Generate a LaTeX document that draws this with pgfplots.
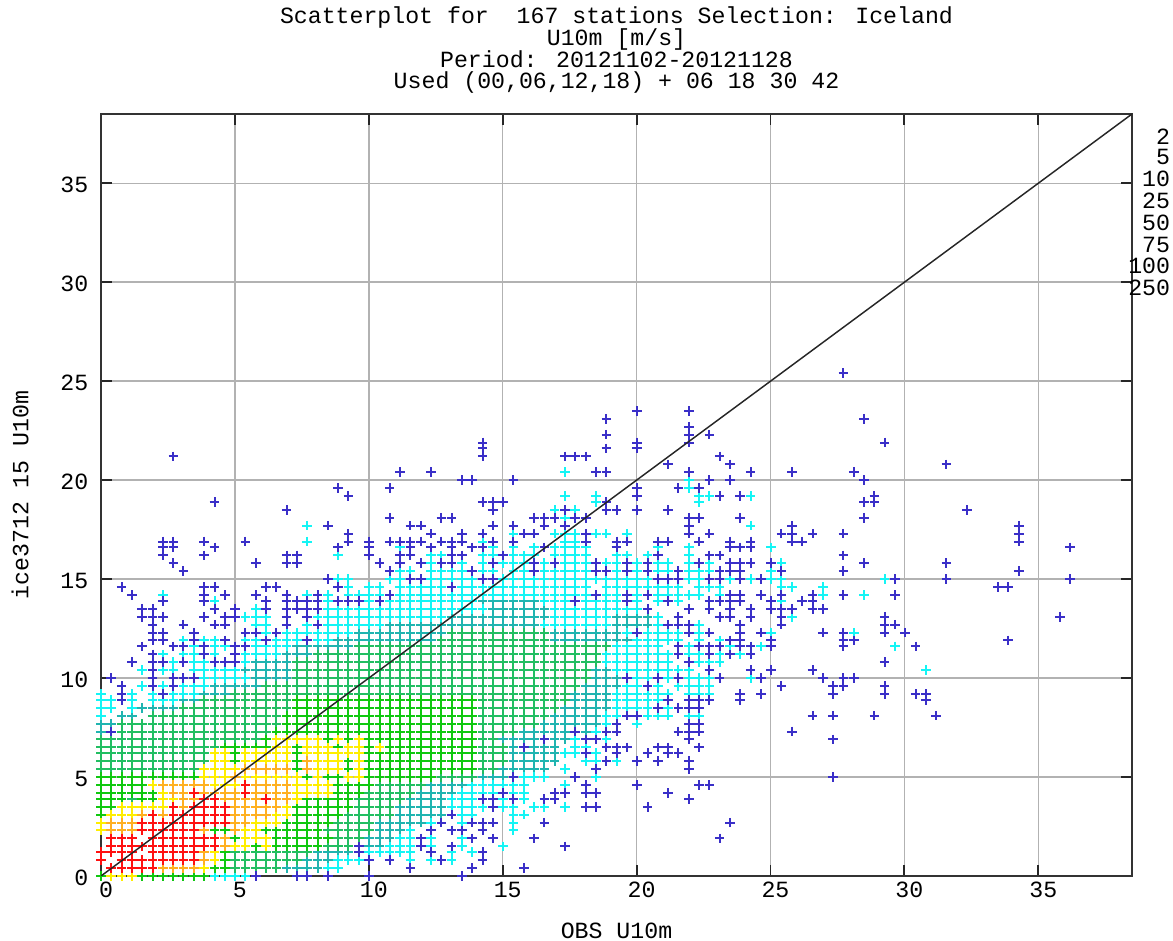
\documentclass[border=0pt]{standalone}
\usepackage{pgfplots}
\pgfplotsset{compat=1.18}
\usepackage{fontspec}
\setmainfont{Liberation Mono}
\definecolor{cR}{HTML}{FF1010}
\definecolor{cO}{HTML}{FFB020}
\definecolor{cY}{HTML}{FFEE00}
\definecolor{cG}{HTML}{10C810}
\definecolor{cM}{HTML}{22BE62}
\definecolor{cT}{HTML}{20B4B0}
\definecolor{cC}{HTML}{14F5F5}
\definecolor{cB}{HTML}{3A2FC8}
\newcommand{\gfont}{\fontsize{17.4}{16.3}\selectfont}
\begin{document}
\begin{tikzpicture}
\path[use as bounding box] (-75.75pt,-48.75pt) rectangle (804pt,657pt);
\begin{axis}[
 scale only axis, width=773.25pt, height=571.5pt,
 xmin=0,xmax=38.5,ymin=0,ymax=38.5,
 xtick={0,5,...,35}, ytick={0,5,...,35},
 grid=major, major grid style={draw=black!30!white,line width=1.1pt},
 tick align=inside, major tick length=8pt, tick style={draw=black!85,line width=1.4pt},
 axis line style={draw=black!80,line width=1.5pt},
 clip mode=individual,
 /pgf/number format/assume math mode=true,
 tick label style={font=\gfont},
 xticklabel style={xshift=3.75pt,yshift=-1pt},
 yticklabel style={xshift=-6pt,yshift=-1.5pt},
 title={Scatterplot for\ \ 167 stations Selection: Iceland\\U10m [m/s]\\Period: 20121102-20121128\\Used (00,06,12,18) + 06 18 30 42},
 title style={font=\gfont,align=center,at={(0.5,1)},anchor=south,inner sep=0pt,yshift=9pt},
 xlabel={OBS U10m}, xlabel style={font=\gfont,inner sep=0pt,at={(axis description cs:0.5,0)},anchor=center,yshift=-41.5pt},
 ylabel={ice3712 15 U10m}, ylabel style={font=\gfont,inner sep=0pt,at={(axis description cs:0,0.5)},anchor=center,yshift=60.75pt},
 every axis plot/.append style={only marks,mark=+,mark size=3.6pt,line width=1.5pt,mark options={solid,line width=1.5pt}},
]
\addplot[color=cT] table[header=false] {
7.7 0.4
6.93 0.4
7.32 0.4
8.09 0.4
7.7 0.8
8.09 0.8
8.47 0.8
8.09 1.2
8.47 1.2
8.86 1.2
9.24 1.2
9.63 1.5
10.01 1.5
10.4 1.5
10.01 1.9
10.4 1.9
10.78 1.9
10.4 2.3
10.78 2.3
11.17 2.3
10.4 2.7
10.78 2.7
11.17 2.7
11.55 2.7
11.94 2.7
11.17 3.1
11.55 3.1
11.94 3.1
12.32 3.1
12.71 3.1
11.17 3.5
11.55 3.5
11.94 3.5
12.32 3.5
12.71 3.5
11.55 3.9
11.94 3.9
12.32 3.9
12.71 3.9
11.94 4.2
12.32 4.2
12.71 4.2
13.09 4.2
12.32 4.6
12.71 4.6
13.09 4.6
13.48 4.6
14.25 5
14.63 5
15.02 5
15.4 5
15.02 5.4
15.4 5.4
15.79 5.4
16.17 5.4
16.56 5.4
15.4 5.8
15.79 5.8
16.17 5.8
16.56 5.8
16.94 5.8
15.4 6.2
15.79 6.2
16.17 6.2
16.56 6.2
16.94 6.2
15.4 6.5
15.79 6.5
16.17 6.5
16.56 6.5
16.94 6.5
15.02 6.9
15.4 6.9
15.79 6.9
16.17 6.9
16.56 6.9
16.94 6.9
17.33 6.9
0 7.3
0.38 7.3
15.79 7.3
16.17 7.3
16.56 7.3
16.94 7.3
17.33 7.3
17.71 7.3
18.1 7.3
0 7.7
0.38 7.7
16.56 7.7
16.94 7.7
17.33 7.7
17.71 7.7
18.1 7.7
18.48 7.7
0.77 8.1
1.16 8.1
16.94 8.1
17.33 8.1
17.71 8.1
18.1 8.1
18.48 8.1
1.54 8.5
1.93 8.5
2.31 8.5
2.7 8.5
17.33 8.5
17.71 8.5
18.1 8.5
18.48 8.5
18.87 8.5
3.08 8.9
3.47 8.9
17.71 8.9
18.1 8.9
18.48 8.9
18.87 8.9
3.85 9.2
4.24 9.2
4.62 9.2
17.71 9.2
18.1 9.2
18.48 9.2
18.87 9.2
4.24 9.6
4.62 9.6
5 9.6
5.39 9.6
5.78 9.6
18.1 9.6
18.48 9.6
18.87 9.6
19.25 9.6
5.78 10
6.16 10
6.55 10
6.93 10
18.48 10
18.87 10
19.25 10
5.39 10.4
5.78 10.4
6.16 10.4
6.55 10.4
6.93 10.4
18.48 10.4
18.87 10.4
5.78 10.8
6.16 10.8
6.55 10.8
6.93 10.8
6.93 11.2
7.32 11.2
7.7 11.2
7.32 11.6
7.7 11.6
8.09 11.6
8.47 11.6
8.86 11.6
9.24 11.6
8.86 11.9
9.24 11.9
9.63 11.9
10.01 11.9
10.4 11.9
10.78 11.9
11.17 11.9
11.55 11.9
11.94 11.9
12.32 11.9
16.94 11.9
17.33 11.9
17.71 11.9
18.1 11.9
18.48 11.9
18.87 11.9
19.25 11.9
19.64 11.9
9.63 12.3
10.01 12.3
10.4 12.3
10.78 12.3
11.17 12.3
11.55 12.3
11.94 12.3
12.32 12.3
12.71 12.3
16.94 12.3
17.33 12.3
17.71 12.3
18.1 12.3
18.48 12.3
18.87 12.3
19.25 12.3
10.78 12.7
11.17 12.7
11.55 12.7
11.94 12.7
12.32 12.7
12.71 12.7
13.09 12.7
13.48 12.7
13.86 12.7
14.25 12.7
14.63 12.7
15.02 12.7
15.4 12.7
15.79 12.7
16.17 12.7
19.25 12.7
19.64 12.7
20.02 12.7
20.41 12.7
13.09 13.1
13.48 13.1
13.86 13.1
14.25 13.1
14.63 13.1
15.02 13.1
15.4 13.1
15.79 13.1
16.17 13.1
16.56 13.1
19.25 13.1
19.64 13.1
20.02 13.1
20.41 13.1
14.63 13.5
15.02 13.5
15.4 13.5
15.79 13.5
16.17 13.5
16.56 13.5
14.25 13.9
14.63 13.9
15.02 13.9
15.4 13.9
15.79 13.9
16.17 13.9
};
\addplot[color=cC] table[header=false] {
4.24 0
4.62 0
5 0
5.39 0
8.47 0.4
8.86 0.4
8.86 0.8
9.24 0.8
9.63 0.8
11.55 0.8
12.32 0.8
13.09 0.8
9.63 1.2
10.01 1.2
10.4 1.2
10.78 1.2
11.17 1.2
11.55 1.2
12.32 1.2
13.09 1.2
13.86 1.2
10.78 1.5
11.17 1.5
11.55 1.5
12.32 1.5
13.48 1.5
15.02 1.5
11.17 1.9
11.55 1.9
12.32 1.9
13.48 1.9
11.55 2.3
12.32 2.3
13.09 2.3
13.48 2.3
15.4 2.3
12.32 2.7
13.48 2.7
13.86 2.7
15.4 2.7
13.09 3.1
13.48 3.1
13.86 3.1
15.4 3.1
15.79 3.1
13.09 3.5
13.48 3.5
13.86 3.5
14.25 3.5
15.02 3.5
15.4 3.5
16.17 3.5
16.56 3.5
17.33 3.5
13.09 3.9
13.48 3.9
13.86 3.9
15.02 3.9
15.79 3.9
13.48 4.2
13.86 4.2
14.25 4.2
14.63 4.2
15.4 4.2
15.79 4.2
13.86 4.6
14.25 4.6
14.63 4.6
15.02 4.6
15.4 4.6
15.79 4.6
17.33 4.6
15.79 5
16.17 5
16.56 5
18.48 5
17.33 5.4
18.48 5.4
18.1 5.8
18.48 5.8
19.25 5.8
17.33 6.2
17.71 6.2
18.1 6.2
18.48 6.2
17.71 6.5
18.1 6.5
17.71 6.9
18.1 6.9
18.48 6.9
18.87 6.9
18.48 7.3
18.87 7.3
18.87 7.7
20.02 7.7
0 8.1
18.87 8.1
19.25 8.1
20.02 8.1
20.41 8.1
20.79 8.1
21.18 8.1
21.95 8.1
22.33 8.1
0 8.5
0.38 8.5
1.16 8.5
19.25 8.5
19.64 8.5
20.02 8.5
20.41 8.5
20.79 8.5
21.18 8.5
21.95 8.5
22.33 8.5
0 8.9
0.38 8.9
1.16 8.9
1.93 8.9
2.31 8.9
2.7 8.9
19.25 8.9
19.64 8.9
20.02 8.9
20.41 8.9
20.79 8.9
21.18 8.9
21.95 8.9
22.33 8.9
0 9.2
1.16 9.2
1.93 9.2
2.31 9.2
2.7 9.2
3.08 9.2
3.47 9.2
19.25 9.2
19.64 9.2
20.02 9.2
20.41 9.2
20.79 9.2
21.18 9.2
21.95 9.2
22.33 9.2
22.72 9.2
1.54 9.6
2.31 9.6
2.7 9.6
3.08 9.6
3.47 9.6
3.85 9.6
19.64 9.6
20.02 9.6
20.79 9.6
21.56 9.6
21.95 9.6
22.33 9.6
22.72 9.6
3.85 10
4.24 10
4.62 10
5 10
5.39 10
19.64 10
20.02 10
20.41 10
20.79 10
21.18 10
21.56 10
21.95 10
22.33 10
22.72 10
24.26 10
1.54 10.4
2.31 10.4
2.7 10.4
3.47 10.4
3.85 10.4
4.24 10.4
4.62 10.4
5 10.4
19.25 10.4
19.64 10.4
20.02 10.4
20.41 10.4
20.79 10.4
21.18 10.4
21.56 10.4
21.95 10.4
22.72 10.4
24.26 10.4
30.8 10.4
2.7 10.8
3.47 10.8
3.85 10.8
4.24 10.8
4.62 10.8
5 10.8
5.39 10.8
18.87 10.8
19.25 10.8
19.64 10.8
20.02 10.8
20.41 10.8
20.79 10.8
21.18 10.8
22.33 10.8
22.72 10.8
23.1 10.8
2.31 11.2
3.08 11.2
3.47 11.2
3.85 11.2
4.24 11.2
5 11.2
5.39 11.2
5.78 11.2
6.16 11.2
6.55 11.2
18.87 11.2
19.25 11.2
19.64 11.2
20.02 11.2
20.41 11.2
20.79 11.2
21.18 11.2
21.95 11.2
22.33 11.2
23.1 11.2
23.87 11.2
3.08 11.6
3.47 11.6
4.24 11.6
4.62 11.6
5.78 11.6
6.16 11.6
6.55 11.6
6.93 11.6
19.25 11.6
19.64 11.6
20.02 11.6
20.41 11.6
20.79 11.6
21.95 11.6
22.72 11.6
23.49 11.6
24.64 11.6
29.65 11.6
3.08 11.9
3.85 11.9
4.24 11.9
5.39 11.9
5.78 11.9
6.16 11.9
6.55 11.9
6.93 11.9
7.32 11.9
8.09 11.9
8.47 11.9
20.02 11.9
20.41 11.9
20.79 11.9
21.18 11.9
21.56 11.9
22.33 11.9
23.1 11.9
6.16 12.3
6.93 12.3
7.32 12.3
7.7 12.3
8.09 12.3
8.47 12.3
8.86 12.3
9.24 12.3
19.64 12.3
20.02 12.3
20.41 12.3
20.79 12.3
21.18 12.3
21.56 12.3
22.33 12.3
25.03 12.3
28.11 12.3
5.78 12.7
6.16 12.7
7.7 12.7
8.09 12.7
8.47 12.7
8.86 12.7
9.24 12.7
9.63 12.7
10.01 12.7
10.4 12.7
16.56 12.7
16.94 12.7
17.33 12.7
17.71 12.7
18.1 12.7
18.48 12.7
18.87 12.7
20.79 12.7
22.33 12.7
5.39 13.1
5.78 13.1
6.16 13.1
7.7 13.1
8.09 13.1
8.47 13.1
8.86 13.1
9.24 13.1
9.63 13.1
10.01 13.1
10.4 13.1
10.78 13.1
11.17 13.1
11.55 13.1
11.94 13.1
12.32 13.1
12.71 13.1
16.94 13.1
17.33 13.1
17.71 13.1
18.1 13.1
18.48 13.1
18.87 13.1
20.79 13.1
25.8 13.1
5.78 13.5
8.47 13.5
8.86 13.5
9.24 13.5
9.63 13.5
10.01 13.5
10.4 13.5
10.78 13.5
11.17 13.5
11.55 13.5
11.94 13.5
12.32 13.5
12.71 13.5
13.09 13.5
13.48 13.5
13.86 13.5
14.25 13.5
16.94 13.5
17.33 13.5
17.71 13.5
18.1 13.5
18.48 13.5
18.87 13.5
19.25 13.5
19.64 13.5
20.02 13.5
26.57 13.5
4.24 13.9
7.32 13.9
8.47 13.9
10.01 13.9
10.4 13.9
10.78 13.9
11.17 13.9
11.55 13.9
11.94 13.9
12.32 13.9
12.71 13.9
13.09 13.9
13.48 13.9
13.86 13.9
16.56 13.9
16.94 13.9
17.33 13.9
17.71 13.9
18.1 13.9
18.48 13.9
18.87 13.9
19.25 13.9
19.64 13.9
20.02 13.9
20.79 13.9
21.56 13.9
25.41 13.9
2.31 14.2
7.7 14.2
8.09 14.2
8.47 14.2
9.24 14.2
9.63 14.2
10.01 14.2
10.4 14.2
11.17 14.2
11.55 14.2
11.94 14.2
12.32 14.2
12.71 14.2
13.09 14.2
13.48 14.2
13.86 14.2
14.25 14.2
14.63 14.2
15.02 14.2
15.4 14.2
15.79 14.2
16.17 14.2
16.56 14.2
16.94 14.2
17.33 14.2
17.71 14.2
18.1 14.2
18.87 14.2
19.25 14.2
20.02 14.2
20.79 14.2
21.18 14.2
21.56 14.2
21.95 14.2
22.33 14.2
23.1 14.2
26.95 14.2
28.49 14.2
9.24 14.6
10.01 14.6
10.4 14.6
11.17 14.6
11.55 14.6
11.94 14.6
12.32 14.6
12.71 14.6
13.09 14.6
13.48 14.6
13.86 14.6
14.25 14.6
14.63 14.6
15.02 14.6
15.4 14.6
15.79 14.6
16.17 14.6
16.56 14.6
16.94 14.6
17.33 14.6
17.71 14.6
18.1 14.6
18.87 14.6
19.25 14.6
19.64 14.6
20.02 14.6
20.41 14.6
20.79 14.6
21.18 14.6
21.56 14.6
22.33 14.6
22.72 14.6
23.1 14.6
25.41 14.6
25.8 14.6
26.95 14.6
8.86 15
9.24 15
10.78 15
11.17 15
12.32 15
12.71 15
13.09 15
13.48 15
13.86 15
14.25 15
14.63 15
15.02 15
15.4 15
15.79 15
16.17 15
16.56 15
16.94 15
17.33 15
17.71 15
18.1 15
18.48 15
18.87 15
19.25 15
19.64 15
20.02 15
20.41 15
21.95 15
22.33 15
23.49 15
24.26 15
24.64 15
25.03 15
25.41 15
29.26 15
11.17 15.4
11.55 15.4
12.32 15.4
12.71 15.4
13.09 15.4
13.48 15.4
14.25 15.4
14.63 15.4
15.4 15.4
15.79 15.4
16.56 15.4
16.94 15.4
17.33 15.4
17.71 15.4
18.1 15.4
19.25 15.4
20.02 15.4
20.79 15.4
21.18 15.4
21.95 15.4
22.33 15.4
22.72 15.4
25.03 15.4
11.17 15.8
12.32 15.8
13.48 15.8
14.25 15.8
15.02 15.8
15.4 15.8
15.79 15.8
16.56 15.8
17.33 15.8
17.71 15.8
18.1 15.8
18.87 15.8
19.25 15.8
20.02 15.8
20.79 15.8
21.18 15.8
21.95 15.8
22.72 15.8
25.41 15.8
8.86 16.2
12.32 16.2
12.71 16.2
14.25 16.2
14.63 16.2
15.02 16.2
15.4 16.2
15.79 16.2
16.17 16.2
16.94 16.2
17.33 16.2
17.71 16.2
18.1 16.2
19.25 16.2
19.64 16.2
20.41 16.2
21.95 16.2
11.17 16.6
14.63 16.6
15.4 16.6
16.17 16.6
16.94 16.6
17.33 16.6
17.71 16.6
18.1 16.6
20.79 16.6
21.95 16.6
25.03 16.6
7.7 16.9
14.25 16.9
17.33 16.9
17.71 16.9
15.4 17.3
16.94 17.3
17.33 17.3
17.71 17.3
18.48 17.3
18.87 17.3
19.64 17.3
7.7 17.7
17.33 17.7
24.26 17.7
17.33 18.1
16.94 18.5
17.71 18.5
18.48 18.9
22.33 18.9
17.33 19.2
18.48 19.2
22.33 19.2
22.72 19.2
24.26 19.2
21.95 19.6
21.95 20
17.33 20.4
};
\addplot[color=cM] table[header=false] {
5 0.4
5.39 0.4
5.78 0.4
6.16 0.4
6.55 0.4
5 0.8
5.39 0.8
5.78 0.8
6.16 0.8
6.55 0.8
6.93 0.8
7.32 0.8
5 1.2
5.39 1.2
5.78 1.2
6.16 1.2
6.55 1.2
6.93 1.2
7.32 1.2
7.7 1.2
8.47 1.5
8.86 1.5
9.24 1.5
8.86 1.9
9.24 1.9
9.63 1.9
8.47 2.3
8.86 2.3
9.24 2.3
9.63 2.3
10.01 2.3
8.86 2.7
9.24 2.7
9.63 2.7
10.01 2.7
9.24 3.1
9.63 3.1
10.01 3.1
10.4 3.1
10.78 3.1
9.63 3.5
10.01 3.5
10.4 3.5
10.78 3.5
1.16 3.9
9.63 3.9
10.01 3.9
10.4 3.9
10.78 3.9
11.17 3.9
10.01 4.2
10.4 4.2
10.78 4.2
11.17 4.2
11.55 4.2
10.4 4.6
10.78 4.6
11.17 4.6
11.55 4.6
11.94 4.6
12.71 5
13.09 5
13.48 5
13.86 5
0 5.4
0.38 5.4
0.77 5.4
1.16 5.4
1.54 5.4
1.93 5.4
2.31 5.4
2.7 5.4
3.08 5.4
3.47 5.4
14.25 5.4
14.63 5.4
0 5.8
0.38 5.8
0.77 5.8
1.16 5.8
1.54 5.8
1.93 5.8
2.31 5.8
2.7 5.8
3.08 5.8
3.47 5.8
3.85 5.8
14.25 5.8
14.63 5.8
15.02 5.8
0 6.2
0.38 6.2
0.77 6.2
1.16 6.2
1.54 6.2
1.93 6.2
2.31 6.2
2.7 6.2
3.08 6.2
3.47 6.2
3.85 6.2
14.25 6.2
14.63 6.2
15.02 6.2
0 6.5
0.38 6.5
0.77 6.5
1.16 6.5
1.54 6.5
1.93 6.5
2.31 6.5
2.7 6.5
3.08 6.5
3.47 6.5
3.85 6.5
4.24 6.5
14.25 6.5
14.63 6.5
15.02 6.5
0 6.9
0.38 6.9
0.77 6.9
1.16 6.9
1.54 6.9
1.93 6.9
2.31 6.9
2.7 6.9
3.08 6.9
3.47 6.9
3.85 6.9
4.24 6.9
4.62 6.9
5 6.9
5.39 6.9
5.78 6.9
14.25 6.9
14.63 6.9
0.77 7.3
1.16 7.3
1.54 7.3
1.93 7.3
2.31 7.3
2.7 7.3
3.08 7.3
3.47 7.3
3.85 7.3
4.24 7.3
4.62 7.3
5 7.3
5.39 7.3
5.78 7.3
6.16 7.3
14.25 7.3
14.63 7.3
15.02 7.3
15.4 7.3
0.77 7.7
1.16 7.7
1.54 7.7
1.93 7.7
2.31 7.7
2.7 7.7
3.08 7.7
3.47 7.7
3.85 7.7
4.24 7.7
4.62 7.7
5 7.7
5.39 7.7
5.78 7.7
6.16 7.7
6.55 7.7
14.25 7.7
14.63 7.7
15.02 7.7
15.4 7.7
15.79 7.7
16.17 7.7
1.93 8.1
2.31 8.1
2.7 8.1
3.08 8.1
3.47 8.1
3.85 8.1
4.24 8.1
4.62 8.1
5 8.1
5.39 8.1
5.78 8.1
6.16 8.1
6.55 8.1
14.25 8.1
14.63 8.1
15.02 8.1
15.4 8.1
15.79 8.1
16.17 8.1
16.56 8.1
3.08 8.5
3.47 8.5
3.85 8.5
4.24 8.5
4.62 8.5
5 8.5
5.39 8.5
5.78 8.5
6.16 8.5
6.55 8.5
6.93 8.5
14.25 8.5
14.63 8.5
15.02 8.5
15.4 8.5
15.79 8.5
16.17 8.5
16.56 8.5
16.94 8.5
3.85 8.9
4.24 8.9
4.62 8.9
5 8.9
5.39 8.9
5.78 8.9
6.16 8.9
6.55 8.9
6.93 8.9
14.25 8.9
14.63 8.9
15.02 8.9
15.4 8.9
15.79 8.9
16.17 8.9
16.56 8.9
16.94 8.9
17.33 8.9
5 9.2
5.39 9.2
5.78 9.2
6.16 9.2
6.55 9.2
6.93 9.2
7.32 9.2
7.7 9.2
8.09 9.2
8.47 9.2
8.86 9.2
9.24 9.2
9.63 9.2
10.01 9.2
10.4 9.2
10.78 9.2
11.17 9.2
11.55 9.2
11.94 9.2
12.32 9.2
12.71 9.2
13.09 9.2
13.48 9.2
13.86 9.2
14.25 9.2
14.63 9.2
15.02 9.2
15.4 9.2
15.79 9.2
16.17 9.2
16.56 9.2
16.94 9.2
17.33 9.2
6.16 9.6
6.55 9.6
6.93 9.6
7.32 9.6
7.7 9.6
8.09 9.6
8.47 9.6
8.86 9.6
9.24 9.6
9.63 9.6
10.01 9.6
10.4 9.6
10.78 9.6
11.17 9.6
11.55 9.6
11.94 9.6
12.32 9.6
12.71 9.6
13.09 9.6
13.48 9.6
13.86 9.6
14.25 9.6
14.63 9.6
15.02 9.6
15.4 9.6
15.79 9.6
16.17 9.6
16.56 9.6
16.94 9.6
17.33 9.6
17.71 9.6
7.32 10
7.7 10
8.09 10
8.47 10
8.86 10
9.24 10
9.63 10
10.01 10
10.4 10
10.78 10
11.17 10
11.55 10
11.94 10
12.32 10
12.71 10
13.09 10
13.48 10
13.86 10
14.25 10
14.63 10
15.02 10
15.4 10
15.79 10
16.17 10
16.56 10
16.94 10
17.33 10
17.71 10
18.1 10
7.32 10.4
7.7 10.4
8.09 10.4
8.47 10.4
8.86 10.4
9.24 10.4
9.63 10.4
10.01 10.4
10.4 10.4
10.78 10.4
11.17 10.4
11.55 10.4
11.94 10.4
12.32 10.4
12.71 10.4
13.09 10.4
13.48 10.4
13.86 10.4
14.25 10.4
14.63 10.4
15.02 10.4
15.4 10.4
15.79 10.4
16.17 10.4
16.56 10.4
16.94 10.4
17.33 10.4
17.71 10.4
18.1 10.4
7.32 10.8
7.7 10.8
8.09 10.8
8.47 10.8
8.86 10.8
9.24 10.8
9.63 10.8
10.01 10.8
10.4 10.8
10.78 10.8
11.17 10.8
11.55 10.8
11.94 10.8
12.32 10.8
12.71 10.8
13.09 10.8
13.48 10.8
13.86 10.8
14.25 10.8
14.63 10.8
15.02 10.8
15.4 10.8
15.79 10.8
16.17 10.8
16.56 10.8
16.94 10.8
17.33 10.8
17.71 10.8
18.1 10.8
18.48 10.8
8.09 11.2
8.47 11.2
8.86 11.2
9.24 11.2
9.63 11.2
10.01 11.2
10.4 11.2
10.78 11.2
11.17 11.2
11.55 11.2
11.94 11.2
12.32 11.2
12.71 11.2
13.09 11.2
13.48 11.2
13.86 11.2
14.25 11.2
14.63 11.2
15.02 11.2
15.4 11.2
15.79 11.2
16.17 11.2
16.56 11.2
16.94 11.2
17.33 11.2
17.71 11.2
18.1 11.2
18.48 11.2
9.63 11.6
10.01 11.6
10.4 11.6
10.78 11.6
11.17 11.6
11.55 11.6
11.94 11.6
12.32 11.6
12.71 11.6
13.09 11.6
13.48 11.6
13.86 11.6
14.25 11.6
14.63 11.6
15.02 11.6
15.4 11.6
15.79 11.6
16.17 11.6
16.56 11.6
16.94 11.6
17.33 11.6
17.71 11.6
18.1 11.6
18.48 11.6
18.87 11.6
12.71 11.9
13.09 11.9
13.48 11.9
13.86 11.9
14.25 11.9
14.63 11.9
15.02 11.9
15.4 11.9
15.79 11.9
16.17 11.9
16.56 11.9
13.09 12.3
13.48 12.3
13.86 12.3
14.25 12.3
14.63 12.3
15.02 12.3
15.4 12.3
15.79 12.3
16.17 12.3
16.56 12.3
};
\addplot[color=cG] table[header=false] {
0 0
1.54 0
1.93 0
2.31 0
2.7 0
3.08 0
3.47 0
3.85 0
4.24 0.4
4.62 0.4
4.62 0.8
4.62 1.2
5.78 1.5
6.55 1.5
6.93 1.5
7.32 1.5
7.7 1.5
8.09 1.5
5 1.9
6.55 1.9
6.93 1.9
7.32 1.9
7.7 1.9
8.09 1.9
8.47 1.9
4.24 2.3
4.62 2.3
6.16 2.3
6.55 2.3
6.93 2.3
7.32 2.3
7.7 2.3
8.09 2.3
6.93 2.7
7.32 2.7
7.7 2.7
8.09 2.7
8.47 2.7
0 3.1
7.32 3.1
7.7 3.1
8.09 3.1
8.47 3.1
8.86 3.1
0 3.5
0.38 3.5
7.32 3.5
7.7 3.5
8.09 3.5
8.47 3.5
8.86 3.5
9.24 3.5
0 3.9
0.38 3.9
0.77 3.9
1.54 3.9
1.93 3.9
7.7 3.9
8.09 3.9
8.47 3.9
8.86 3.9
9.24 3.9
0 4.2
0.38 4.2
0.77 4.2
1.16 4.2
1.54 4.2
1.93 4.2
8.86 4.2
9.24 4.2
9.63 4.2
0 4.6
0.38 4.6
0.77 4.6
1.16 4.6
1.54 4.6
8.86 4.6
9.24 4.6
9.63 4.6
10.01 4.6
0 5
0.38 5
0.77 5
1.16 5
1.54 5
1.93 5
2.31 5
2.7 5
3.08 5
3.47 5
7.7 5
8.47 5
8.86 5
10.01 5
10.4 5
10.78 5
11.17 5
11.55 5
11.94 5
12.32 5
7.32 5.4
9.24 5.4
10.01 5.4
10.4 5.4
10.78 5.4
11.17 5.4
11.55 5.4
11.94 5.4
12.32 5.4
12.71 5.4
13.09 5.4
13.48 5.4
13.86 5.4
5 5.8
7.32 5.8
9.24 5.8
10.01 5.8
10.4 5.8
10.78 5.8
11.17 5.8
11.55 5.8
11.94 5.8
12.32 5.8
12.71 5.8
13.09 5.8
13.48 5.8
13.86 5.8
5 6.2
7.32 6.2
10.01 6.2
10.4 6.2
10.78 6.2
11.17 6.2
11.55 6.2
11.94 6.2
12.32 6.2
12.71 6.2
13.09 6.2
13.48 6.2
13.86 6.2
4.62 6.5
5 6.5
5.39 6.5
5.78 6.5
6.16 6.5
7.32 6.5
8.86 6.5
10.01 6.5
10.78 6.5
11.17 6.5
11.55 6.5
11.94 6.5
12.32 6.5
12.71 6.5
13.09 6.5
13.48 6.5
13.86 6.5
6.16 6.9
8.47 6.9
9.24 6.9
10.01 6.9
10.4 6.9
10.78 6.9
11.17 6.9
11.55 6.9
11.94 6.9
12.32 6.9
12.71 6.9
13.09 6.9
13.48 6.9
13.86 6.9
6.55 7.3
6.93 7.3
7.32 7.3
7.7 7.3
8.09 7.3
8.47 7.3
8.86 7.3
9.24 7.3
9.63 7.3
10.01 7.3
10.4 7.3
10.78 7.3
11.17 7.3
11.55 7.3
11.94 7.3
12.32 7.3
12.71 7.3
13.09 7.3
13.48 7.3
13.86 7.3
6.93 7.7
7.32 7.7
7.7 7.7
8.09 7.7
8.47 7.7
8.86 7.7
9.24 7.7
9.63 7.7
10.01 7.7
10.4 7.7
10.78 7.7
11.17 7.7
11.55 7.7
11.94 7.7
12.32 7.7
12.71 7.7
13.09 7.7
13.48 7.7
13.86 7.7
6.93 8.1
7.32 8.1
7.7 8.1
8.09 8.1
8.47 8.1
8.86 8.1
9.24 8.1
9.63 8.1
10.01 8.1
10.4 8.1
10.78 8.1
11.17 8.1
11.55 8.1
11.94 8.1
12.32 8.1
12.71 8.1
13.09 8.1
13.48 8.1
13.86 8.1
7.32 8.5
7.7 8.5
8.09 8.5
8.47 8.5
8.86 8.5
9.24 8.5
9.63 8.5
10.01 8.5
10.4 8.5
10.78 8.5
11.17 8.5
11.55 8.5
11.94 8.5
12.32 8.5
12.71 8.5
13.09 8.5
13.48 8.5
13.86 8.5
7.32 8.9
7.7 8.9
8.09 8.9
8.47 8.9
8.86 8.9
9.24 8.9
9.63 8.9
10.01 8.9
10.4 8.9
10.78 8.9
11.17 8.9
11.55 8.9
11.94 8.9
12.32 8.9
12.71 8.9
13.09 8.9
13.48 8.9
13.86 8.9
};
\addplot[color=cY] table[header=false] {
0.38 0
0.77 0
1.16 0
3.85 0.4
4.24 0.8
4.24 1.2
5 1.5
5.39 1.5
6.16 1.5
5.39 1.9
5.78 1.9
6.16 1.9
0 2.3
5.39 2.3
5.78 2.3
0 2.7
5.78 2.7
6.16 2.7
6.55 2.7
0.38 3.1
0.77 3.1
1.16 3.1
6.55 3.1
6.93 3.1
0.77 3.5
1.16 3.5
1.54 3.5
1.93 3.5
2.31 3.5
6.93 3.5
2.31 3.9
2.7 3.9
7.32 3.9
2.31 4.2
7.32 4.2
7.7 4.2
8.09 4.2
8.47 4.2
1.93 4.6
4.24 4.6
4.62 4.6
5 4.6
7.32 4.6
7.7 4.6
8.09 4.6
8.47 4.6
3.85 5
4.24 5
4.62 5
5.39 5
5.78 5
6.16 5
6.55 5
6.93 5
7.32 5
8.09 5
9.24 5
9.63 5
3.85 5.4
4.24 5.4
4.62 5.4
5 5.4
8.09 5.4
8.47 5.4
8.86 5.4
9.63 5.4
4.24 5.8
4.62 5.8
5.39 5.8
5.78 5.8
6.16 5.8
6.55 5.8
6.93 5.8
8.09 5.8
8.47 5.8
8.86 5.8
9.63 5.8
4.24 6.2
4.62 6.2
5.39 6.2
5.78 6.2
6.16 6.2
6.55 6.2
6.93 6.2
7.7 6.2
8.09 6.2
8.47 6.2
8.86 6.2
9.24 6.2
9.63 6.2
6.55 6.5
6.93 6.5
7.7 6.5
8.09 6.5
8.47 6.5
9.24 6.5
9.63 6.5
10.4 6.5
6.55 6.9
6.93 6.9
7.32 6.9
7.7 6.9
8.09 6.9
8.86 6.9
9.63 6.9
};
\addplot[color=cO] table[header=false] {
2.31 0.4
2.7 0.4
3.08 0.4
3.47 0.4
3.85 0.8
3.85 1.2
4.62 1.5
4.62 1.9
0.38 2.3
0.77 2.3
1.16 2.3
3.85 2.3
5 2.3
0.38 2.7
0.77 2.7
1.16 2.7
5 2.7
5.39 2.7
1.54 3.1
2.31 3.1
5 3.1
5.39 3.1
5.78 3.1
6.16 3.1
3.08 3.5
5 3.5
5.39 3.5
5.78 3.5
6.16 3.5
6.55 3.5
3.08 3.9
3.47 3.9
4.62 3.9
5 3.9
5.39 3.9
5.78 3.9
6.55 3.9
6.93 3.9
2.7 4.2
3.08 4.2
3.85 4.2
4.24 4.2
4.62 4.2
5 4.2
5.78 4.2
6.16 4.2
6.55 4.2
6.93 4.2
2.31 4.6
2.7 4.6
3.08 4.6
3.47 4.6
3.85 4.6
5.78 4.6
6.16 4.6
6.55 4.6
6.93 4.6
5 5
5.39 5.4
5.78 5.4
6.16 5.4
6.55 5.4
6.93 5.4
7.7 5.4
7.7 5.8
};
\addplot[color=cR] table[header=false] {
0.38 0.4
0.77 0.4
1.16 0.4
1.54 0.4
1.93 0.4
0 0.8
0.77 0.8
1.16 0.8
1.54 0.8
1.93 0.8
2.31 0.8
2.7 0.8
3.08 0.8
3.47 0.8
0 1.2
0.38 1.2
0.77 1.2
1.16 1.2
1.93 1.2
2.31 1.2
2.7 1.2
3.08 1.2
3.47 1.2
0.38 1.5
0.77 1.5
1.16 1.5
1.54 1.5
1.93 1.5
2.31 1.5
2.7 1.5
3.08 1.5
3.47 1.5
3.85 1.5
4.24 1.5
0.38 1.9
0.77 1.9
1.16 1.9
1.93 1.9
2.31 1.9
2.7 1.9
3.08 1.9
3.47 1.9
3.85 1.9
4.24 1.9
1.54 2.3
1.93 2.3
2.31 2.3
2.7 2.3
3.08 2.3
3.47 2.3
1.54 2.7
1.93 2.7
2.31 2.7
2.7 2.7
3.08 2.7
3.47 2.7
3.85 2.7
4.24 2.7
4.62 2.7
1.93 3.1
2.7 3.1
3.08 3.1
3.47 3.1
3.85 3.1
4.24 3.1
4.62 3.1
2.7 3.5
3.47 3.5
3.85 3.5
4.24 3.5
4.62 3.5
3.85 3.9
4.24 3.9
6.16 3.9
3.47 4.2
5.39 4.2
5.39 4.6
};
\addplot[color=cB] table[header=false] {
5.78 0
7.32 0
7.7 0
8.47 0
10.01 0
13.48 0
11.55 0.4
13.86 0.4
15.79 0.4
10.01 0.8
10.78 0.8
12.71 0.8
14.25 0.8
9.63 1.2
12.32 1.2
14.25 1.2
9.63 1.5
11.94 1.5
13.09 1.5
17.33 1.5
11.94 1.9
13.86 1.9
14.63 1.9
16.17 1.9
23.1 1.9
12.32 2.3
13.09 2.3
13.48 2.3
14.25 2.3
12.71 2.7
13.86 2.7
14.25 2.7
14.63 2.7
16.56 2.7
23.49 2.7
13.09 3.1
14.63 3.5
18.1 3.5
18.48 3.5
20.41 3.5
14.25 3.9
14.63 3.9
15.4 3.9
16.56 3.9
16.94 3.9
21.95 3.9
15.02 4.2
16.94 4.2
17.33 4.2
18.1 4.2
18.48 4.2
21.18 4.2
18.1 4.6
20.02 4.6
22.33 4.6
22.72 4.6
15.4 5
17.71 5
27.34 5
18.48 5.4
21.95 5.4
18.87 5.8
20.02 5.8
20.79 5.8
21.95 5.8
18.1 6.2
19.25 6.2
20.41 6.2
21.18 6.2
21.56 6.2
15.79 6.5
18.87 6.5
19.25 6.5
19.64 6.5
20.79 6.5
21.18 6.5
22.33 6.5
16.56 6.9
18.1 6.9
18.48 6.9
21.95 6.9
27.34 6.9
0.38 7.3
17.71 7.3
18.87 7.3
19.25 7.3
21.56 7.3
21.95 7.3
22.33 7.3
25.8 7.3
19.25 7.7
21.95 7.7
22.33 7.7
19.64 8.1
20.02 8.1
26.57 8.1
27.34 8.1
28.88 8.1
31.19 8.1
20.79 8.5
21.56 8.5
21.95 8.5
22.33 8.5
0.77 8.9
21.18 8.9
21.95 8.9
22.33 8.9
22.72 8.9
23.87 8.9
30.8 8.9
0.77 9.2
2.31 9.2
23.87 9.2
24.64 9.2
27.34 9.2
29.26 9.2
30.42 9.2
30.8 9.2
0.77 9.6
1.93 9.6
2.7 9.6
20.41 9.6
25.41 9.6
27.34 9.6
27.72 9.6
29.26 9.6
0.38 10
1.93 10
2.7 10
3.08 10
3.47 10
19.64 10
20.79 10
21.56 10
23.1 10
24.64 10
26.95 10
27.72 10
28.11 10
1.93 10.4
22.72 10.4
24.26 10.4
25.03 10.4
26.57 10.4
1.16 10.8
1.93 10.8
2.31 10.8
3.08 10.8
4.24 10.8
4.62 10.8
5 10.8
21.95 10.8
29.26 10.8
1.93 11.2
3.85 11.2
5 11.2
21.56 11.2
22.72 11.2
23.49 11.2
24.26 11.2
1.54 11.6
2.7 11.6
3.08 11.6
3.85 11.6
5 11.6
5.39 11.6
21.56 11.6
22.33 11.6
22.72 11.6
23.1 11.6
23.87 11.6
24.26 11.6
25.03 11.6
27.72 11.6
30.42 11.6
1.93 11.9
2.31 11.9
3.47 11.9
4.62 11.9
6.16 11.9
7.7 11.9
23.49 11.9
23.87 11.9
25.03 11.9
27.72 11.9
28.11 11.9
33.88 11.9
1.93 12.3
2.31 12.3
3.47 12.3
5.39 12.3
5.78 12.3
6.55 12.3
20.02 12.3
21.95 12.3
22.72 12.3
23.87 12.3
24.64 12.3
26.95 12.3
27.72 12.3
29.26 12.3
30.03 12.3
1.93 12.7
3.08 12.7
4.24 12.7
4.62 12.7
6.93 12.7
8.09 12.7
21.18 12.7
21.56 12.7
21.95 12.7
23.87 12.7
25.41 12.7
29.26 12.7
29.65 12.7
1.54 13.1
1.93 13.1
2.31 13.1
3.85 13.1
4.62 13.1
5 13.1
6.93 13.1
7.7 13.1
21.56 13.1
23.1 13.1
23.49 13.1
24.26 13.1
25.41 13.1
29.26 13.1
35.81 13.1
1.54 13.5
1.93 13.5
4.24 13.5
5 13.5
6.16 13.5
6.93 13.5
7.32 13.5
7.7 13.5
8.09 13.5
20.41 13.5
21.95 13.5
22.72 13.5
23.49 13.5
24.26 13.5
25.03 13.5
25.41 13.5
25.8 13.5
26.57 13.5
26.95 13.5
2.31 13.9
3.85 13.9
6.16 13.9
6.93 13.9
7.32 13.9
7.7 13.9
8.09 13.9
8.86 13.9
9.24 13.9
9.63 13.9
10.4 13.9
17.71 13.9
19.64 13.9
21.18 13.9
22.72 13.9
23.1 13.9
23.49 13.9
23.87 13.9
25.03 13.9
26.18 13.9
26.57 13.9
1.16 14.2
3.85 14.2
4.62 14.2
5.78 14.2
6.93 14.2
8.09 14.2
10.78 14.2
18.48 14.2
19.64 14.2
20.41 14.2
23.49 14.2
23.87 14.2
24.64 14.2
25.41 14.2
26.57 14.2
27.72 14.2
29.65 14.2
0.77 14.6
3.85 14.6
4.24 14.6
6.16 14.6
6.55 14.6
8.86 14.6
13.09 14.6
33.5 14.6
33.88 14.6
8.47 15
11.55 15
11.94 15
14.25 15
14.63 15
20.79 15
21.18 15
21.56 15
22.72 15
23.1 15
23.87 15
24.64 15
29.65 15
31.57 15
36.19 15
3.08 15.4
10.78 15.4
13.86 15.4
16.17 15.4
18.48 15.4
18.87 15.4
19.64 15.4
20.41 15.4
21.56 15.4
23.1 15.4
23.49 15.4
23.87 15.4
25.41 15.4
27.72 15.4
34.27 15.4
2.7 15.8
5.78 15.8
6.93 15.8
7.32 15.8
10.4 15.8
11.17 15.8
11.94 15.8
12.71 15.8
13.09 15.8
14.63 15.8
16.17 15.8
16.94 15.8
18.48 15.8
19.64 15.8
20.41 15.8
22.33 15.8
23.49 15.8
23.87 15.8
24.26 15.8
25.03 15.8
28.49 15.8
31.57 15.8
2.31 16.2
3.85 16.2
6.93 16.2
7.32 16.2
10.01 16.2
11.17 16.2
11.55 16.2
13.09 16.2
13.48 16.2
15.02 16.2
20.79 16.2
22.72 16.2
23.1 16.2
27.72 16.2
2.31 16.6
2.7 16.6
4.24 16.6
8.86 16.6
10.01 16.6
11.55 16.6
12.32 16.6
13.09 16.6
13.86 16.6
14.25 16.6
16.56 16.6
19.25 16.6
23.49 16.6
23.87 16.6
24.26 16.6
36.19 16.6
2.31 16.9
2.7 16.9
3.85 16.9
5.39 16.9
9.24 16.9
10.01 16.9
10.78 16.9
11.17 16.9
11.55 16.9
11.94 16.9
12.71 16.9
13.09 16.9
13.48 16.9
14.63 16.9
15.4 16.9
18.1 16.9
19.25 16.9
19.64 16.9
20.79 16.9
21.18 16.9
22.33 16.9
23.49 16.9
24.26 16.9
25.8 16.9
26.18 16.9
34.27 16.9
9.24 17.3
12.32 17.3
13.48 17.3
14.25 17.3
15.79 17.3
16.17 17.3
18.1 17.3
21.95 17.3
22.72 17.3
25.41 17.3
25.8 17.3
26.57 17.3
27.72 17.3
34.27 17.3
8.47 17.7
11.55 17.7
11.94 17.7
14.63 17.7
15.4 17.7
16.56 17.7
17.33 17.7
21.95 17.7
25.8 17.7
34.27 17.7
10.78 18.1
12.71 18.1
13.09 18.1
16.17 18.1
16.56 18.1
16.94 18.1
17.71 18.1
18.1 18.1
21.95 18.1
22.33 18.1
23.87 18.1
28.49 18.1
6.93 18.5
14.63 18.5
17.33 18.5
18.87 18.5
19.25 18.5
20.02 18.5
21.18 18.5
32.34 18.5
4.24 18.9
14.25 18.9
14.63 18.9
15.02 18.9
18.87 18.9
28.49 18.9
28.88 18.9
9.24 19.2
20.02 19.2
23.1 19.2
23.87 19.2
28.88 19.2
8.86 19.6
10.78 19.6
20.02 19.6
21.56 19.6
22.33 19.6
13.48 20
13.86 20
15.4 20
22.72 20
23.49 20
28.49 20
11.17 20.4
12.32 20.4
18.48 20.4
18.87 20.4
21.95 20.4
24.26 20.4
25.8 20.4
28.11 20.4
21.18 20.8
23.49 20.8
31.57 20.8
2.7 21.2
14.25 21.2
17.33 21.2
17.71 21.2
18.1 21.2
23.1 21.2
14.25 21.6
18.87 21.6
20.02 21.6
14.25 21.9
20.02 21.9
21.95 21.9
29.26 21.9
18.87 22.3
21.95 22.3
22.72 22.3
21.95 22.7
18.87 23.1
28.49 23.1
20.02 23.5
21.95 23.5
27.72 25.4
};
\addplot[no marks,sharp plot,draw=black!85,line width=1.1pt] coordinates {(0,0) (38.5,38.5)};
\end{axis}
\node[anchor=east,inner sep=0pt,font=\gfont] at (802pt,554.5pt) {2};
\node[anchor=east,inner sep=0pt,font=\gfont] at (802pt,539.2pt) {5};
\node[anchor=east,inner sep=0pt,font=\gfont] at (802pt,522.8pt) {10};
\node[anchor=east,inner sep=0pt,font=\gfont] at (802pt,506.3pt) {25};
\node[anchor=east,inner sep=0pt,font=\gfont] at (802pt,489.8pt) {50};
\node[anchor=east,inner sep=0pt,font=\gfont] at (802pt,473.3pt) {75};
\node[anchor=east,inner sep=0pt,font=\gfont] at (802pt,457.5pt) {100};
\node[anchor=east,inner sep=0pt,font=\gfont] at (802pt,441pt) {250};
\end{tikzpicture}
\end{document}
